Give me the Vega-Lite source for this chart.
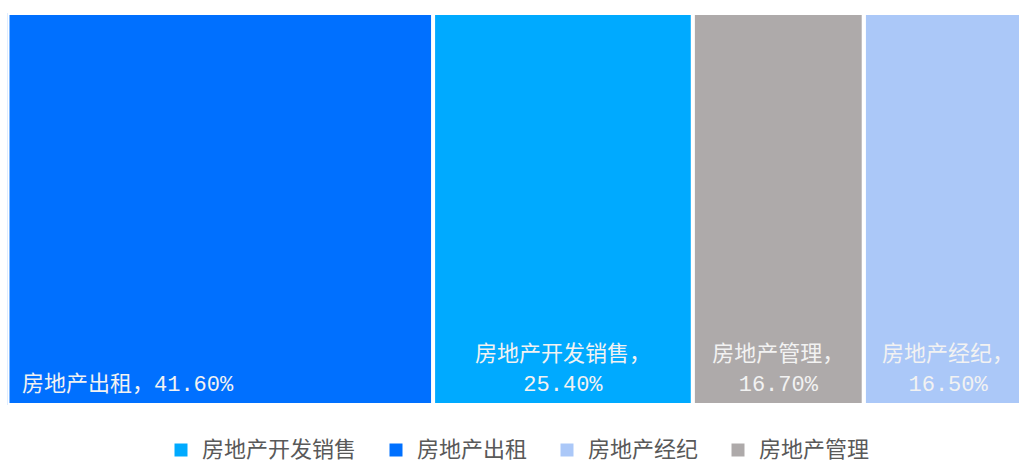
{
  "$schema": "https://vega.github.io/schema/vega-lite/v6.json",
  "width": 1011.5,
  "height": 392,
  "autosize": "none",
  "padding": {"left": 7.5, "top": 13, "right": 0, "bottom": 56},
  "config": {"view": {"stroke": null}, "font": "Noto Sans CJK SC"},
  "data": {
    "values": [
      {"name": "房地产开发销售", "value": 25.4, "label": "房地产开发销售，\n25.40%"},
      {"name": "房地产出租", "value": 41.6, "label": "房地产出租，41.60%"},
      {"name": "房地产经纪", "value": 16.5, "label": "房地产经纪，\n16.50%"},
      {"name": "房地产管理", "value": 16.7, "label": "房地产管理，\n16.70%"}
    ]
  },
  "layer": [
    {
      "mark": {"type": "bar", "stroke": "white", "strokeWidth": 4, "clip": true, "height": {"expr": "height"}},
      "encoding": {
        "x": {"field": "value", "type": "quantitative", "stack": "zero", "scale": {"domain": [0, 98.88], "nice": false, "zero": false}, "axis": null},
        "order": {"field": "value", "sort": "descending"},
        "color": {
          "field": "name",
          "type": "nominal",
          "scale": {
            "domain": ["房地产开发销售", "房地产出租", "房地产经纪", "房地产管理"],
            "range": ["#00AAFF", "#0070FF", "#ABC8F8", "#AEAAAA"]
          },
          "legend": {
            "title": null,
            "orient": "none",
            "direction": "horizontal",
            "legendX": 162.5,
            "legendY": 426,
            "padding": 0,
            "symbolType": "square",
            "symbolSize": 169,
            "symbolStrokeWidth": 0,
            "symbolOpacity": 1,
            "labelOffset": 10,
            "labelFontSize": 22,
            "labelFont": "Noto Sans CJK SC",
            "labelColor": "#595959",
            "columnPadding": 28,
            "labelLimit": 300
          }
        }
      }
    },
    {
      "mark": {"type": "text", "align": "center", "baseline": "alphabetic", "y": "height", "dy": -44, "fontSize": 22, "lineBreak": "\n", "lineHeight": 30, "font": "Liberation Mono, Noto Sans CJK SC", "fill": "#F2F2F2"},
      "encoding": {
        "x": {"field": "value", "type": "quantitative", "stack": "zero", "bandPosition": 0.5},
        "order": {"field": "value", "sort": "descending"},
        "detail": {"field": "name"},
        "text": {"condition": {"test": "datum.name === '房地产出租'", "value": ""}, "field": "label"}
      }
    },
    {
      "transform": [{"filter": "datum.name === '房地产出租'"}],
      "mark": {"type": "text", "align": "left", "baseline": "alphabetic", "y": "height", "dy": -14, "dx": 14.5, "fontSize": 22, "font": "Liberation Mono, Noto Sans CJK SC", "fill": "#F2F2F2"},
      "encoding": {
        "x": {"datum": 0, "type": "quantitative"},
        "text": {"field": "label"}
      }
    }
  ]
}
